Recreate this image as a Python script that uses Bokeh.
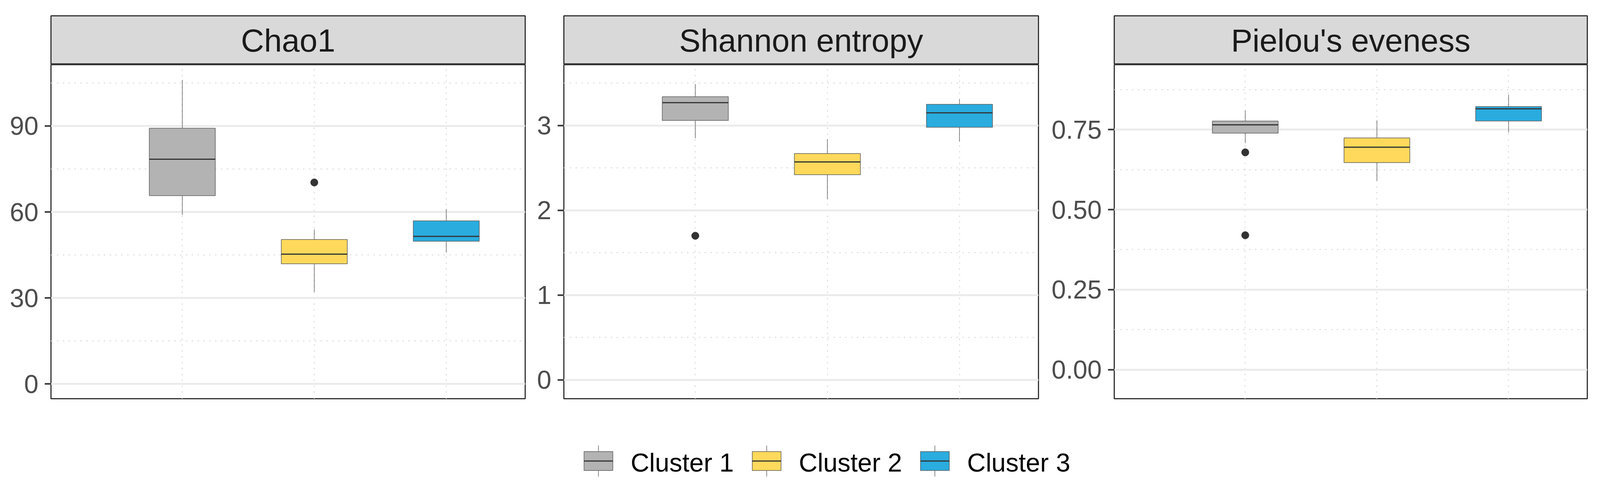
import pandas as pd
from bokeh.plotting import figure
from bokeh.models import ColumnDataSource, Range1d, FixedTicker, PrintfTickFormatter
from bokeh.layouts import column, row
from bokeh.embed import file_html
from bokeh.resources import INLINE
from bokeh.core.properties import value

# ---------------- data ----------------
categories = ["Cluster 1", "Cluster 2", "Cluster 3"]
fill_colors = ["#B3B3B3", "#FFD95C", "#2AACDF"]
cat_pos = [1, 2, 3]

chao1_lower = [59.0, 32.1, 45.9]
chao1_q1 = [65.7, 41.9, 49.8]
chao1_median = [78.4, 45.3, 51.5]
chao1_q3 = [89.2, 50.4, 56.9]
chao1_upper = [106.1, 53.9, 61.0]
chao1_out_cat = ["Cluster 2"]
chao1_out_val = [70.3]
chao1_ticks = [0, 30, 60, 90]
chao1_minor = [15, 45, 75, 105]

shannon_lower = [2.85, 2.13, 2.81]
shannon_q1 = [3.06, 2.42, 2.98]
shannon_median = [3.27, 2.57, 3.15]
shannon_q3 = [3.34, 2.67, 3.25]
shannon_upper = [3.49, 2.84, 3.31]
shannon_out_cat = ["Cluster 1"]
shannon_out_val = [1.70]
shannon_ticks = [0, 1, 2, 3]
shannon_minor = [0.5, 1.5, 2.5, 3.5]

pielou_lower = [0.708, 0.590, 0.741]
pielou_q1 = [0.739, 0.647, 0.777]
pielou_median = [0.765, 0.695, 0.815]
pielou_q3 = [0.777, 0.724, 0.822]
pielou_upper = [0.810, 0.779, 0.859]
pielou_out_cat = ["Cluster 1", "Cluster 1"]
pielou_out_val = [0.679, 0.420]
pielou_ticks = [0.0, 0.25, 0.50, 0.75]
pielou_minor = [0.125, 0.375, 0.625, 0.875]

panel_titles = ["Chao1", "Shannon entropy", "Pielou's eveness"]

# ---------------- layout (reference pixels -> page pixels) ----------------
REF_W, REF_H = 4223, 1290
S = 4096 / REF_W          # page pixels per reference pixel
TOTAL_W = 4075
TOTAL_H = 1235
FONT = "Liberation Sans"
BOX_W = 0.5
X_RANGE = (0.005, 3.598)

FRAME_LEFT_R = [134, 1488, 2940]
FRAME_RIGHT_R = [1386, 2740, 4189]
STRIP_TOP_R, STRIP_BOT_R, PANEL_BOT_R = 41, 169, 1051.7

strip_top = round(STRIP_TOP_R * S)
strip_bot = round(STRIP_BOT_R * S)
panel_top = strip_bot + 1
panel_bot = round(PANEL_BOT_R * S)
PANEL_BB = 8
leg_top = panel_bot + PANEL_BB
leg_h = TOTAL_H - leg_top

TICK_PX = f"{round(68 * S)}px"
TITLE_FS = 85
LEG_FS = 68
TITLE_Y = 106.5           # reference px, text anchor
LEG_TEXT_Y = 1220.5       # reference px, text anchor


def make_panel(title, lower, q1, med, q3, upper, out_cat, out_val, ticks, minor,
               yr, fmt, lb, fw, rb):
    s = figure(frame_width=fw, frame_height=strip_bot - strip_top,
               min_border_left=lb, min_border_right=rb,
               min_border_top=strip_top, min_border_bottom=0,
               x_range=Range1d(0, 1),
               y_range=Range1d(strip_bot / S, strip_top / S),
               x_axis_location=None, y_axis_location=None,
               toolbar_location=None, output_backend="svg", title=None)
    s.grid.visible = False
    s.background_fill_color = "#D9D9D9"
    s.border_fill_color = "white"
    s.outline_line_color = "#333333"
    s.outline_line_width = 3
    s.text(x=[0.5], y=[TITLE_Y], text=[title],
           text_align="center", text_baseline="alphabetic",
           text_font=value(FONT), text_font_size=f"{round(TITLE_FS * S)}px",
           text_color="#1A1A1A")

    p = figure(frame_width=fw, frame_height=panel_bot - panel_top,
               min_border_left=lb, min_border_right=rb, min_border_top=1,
               min_border_bottom=PANEL_BB,
               x_range=Range1d(*X_RANGE), y_range=Range1d(*yr),
               x_axis_location=None, toolbar_location=None,
               output_backend="svg", title=None)
    p.outline_line_color = "#333333"
    p.outline_line_width = 3
    p.background_fill_color = "white"

    t = FixedTicker(ticks=ticks, minor_ticks=minor)
    p.yaxis.ticker = t
    p.ygrid.ticker = t
    p.yaxis.formatter = PrintfTickFormatter(format=fmt)
    p.yaxis.axis_line_color = None
    p.yaxis.major_tick_out = 16
    p.yaxis.major_tick_in = 0
    p.yaxis.major_tick_line_width = 4
    p.yaxis.major_tick_line_color = "#333333"
    p.yaxis.minor_tick_line_color = None
    p.yaxis.major_label_standoff = 16
    p.yaxis.major_label_text_font = FONT
    p.yaxis.major_label_text_font_size = TICK_PX
    p.yaxis.major_label_text_color = "#4D4D4D"

    p.ygrid.grid_line_color = "#EBEBEB"
    p.ygrid.grid_line_width = 5
    p.ygrid.minor_grid_line_color = "#E3E3E3"
    p.ygrid.minor_grid_line_width = 3
    p.ygrid.minor_grid_line_dash = "4 11"

    p.xgrid.ticker = FixedTicker(ticks=cat_pos)
    p.xgrid.grid_line_color = "#E3E3E3"
    p.xgrid.grid_line_width = 3
    p.xgrid.grid_line_dash = "4 11"

    df = pd.DataFrame(dict(x=cat_pos, lower=lower, q1=q1, median=med, q3=q3,
                           upper=upper, color=fill_colors))
    df["xl"] = df["x"] - BOX_W / 2
    df["xr"] = df["x"] + BOX_W / 2
    src = ColumnDataSource(df)

    p.segment(x0="x", y0="q3", x1="x", y1="upper", source=src,
              line_color="#666666", line_width=1.5)
    p.segment(x0="x", y0="lower", x1="x", y1="q1", source=src,
              line_color="#666666", line_width=1.5)
    p.vbar(x="x", width=BOX_W, bottom="q1", top="q3", source=src,
           fill_color="color", line_color="#5E5E5E", line_width=1.5)
    p.segment(x0="xl", y0="median", x1="xr", y1="median", source=src,
              line_color="#333333", line_width=3)

    ox = [cat_pos[categories.index(c)] for c in out_cat]
    p.scatter(x=ox, y=out_val, size=round(20 * S), fill_color="#333333",
              line_color="#333333")
    return column(s, p, spacing=0)


panel_specs = [
    (panel_titles[0], chao1_lower, chao1_q1, chao1_median, chao1_q3, chao1_upper,
     chao1_out_cat, chao1_out_val, chao1_ticks, chao1_minor, (-5.15, 111.4), "%d"),
    (panel_titles[1], shannon_lower, shannon_q1, shannon_median, shannon_q3,
     shannon_upper, shannon_out_cat, shannon_out_val, shannon_ticks,
     shannon_minor, (-0.222, 3.718), "%d"),
    (panel_titles[2], pielou_lower, pielou_q1, pielou_median, pielou_q3,
     pielou_upper, pielou_out_cat, pielou_out_val, pielou_ticks, pielou_minor,
     (-0.0908, 0.953), "%.2f"),
]

cols = []
start = 0
for i, spec in enumerate(panel_specs):
    fl = round(FRAME_LEFT_R[i] * S)
    fr = round(FRAME_RIGHT_R[i] * S)
    rb = 4 if i < 2 else TOTAL_W - fr
    cols.append(make_panel(*spec, fl - start, fr - fl, rb))
    start = fr + rb

# ---------------- legend (drawn in reference pixel coordinates) ----------------
lf = figure(frame_width=TOTAL_W, frame_height=leg_h, min_border_left=0,
            min_border_right=0, min_border_top=0, min_border_bottom=0,
            x_range=Range1d(0, TOTAL_W / S),
            y_range=Range1d((leg_top + leg_h) / S, leg_top / S),
            x_axis_location=None, y_axis_location=None,
            toolbar_location=None, output_backend="svg", title=None)
lf.grid.visible = False
lf.outline_line_color = None

KEY_X0, PITCH, KEY_W = 1541, 444, 76
key_left = [KEY_X0 + PITCH * i for i in range(len(categories))]
ldf = pd.DataFrame(dict(left=key_left, label=categories, color=fill_colors))
ldf["right"] = ldf["left"] + KEY_W
ldf["mid"] = ldf["left"] + KEY_W / 2
ldf["top"] = 1191
ldf["bottom"] = 1241
ldf["ymid"] = 1216
ldf["wt"] = 1175
ldf["wb"] = 1257
ldf["tx"] = ldf["left"] + 123
ldf["ty"] = LEG_TEXT_Y
lsrc = ColumnDataSource(ldf)
lf.segment(x0="mid", y0="wt", x1="mid", y1="top", source=lsrc,
           line_color="#666666", line_width=1.5)
lf.segment(x0="mid", y0="bottom", x1="mid", y1="wb", source=lsrc,
           line_color="#666666", line_width=1.5)
lf.quad(left="left", right="right", top="top", bottom="bottom", source=lsrc,
        fill_color="color", line_color="#5E5E5E", line_width=1.5)
lf.segment(x0="left", y0="ymid", x1="right", y1="ymid", source=lsrc,
           line_color="#333333", line_width=3)
lf.text(x="tx", y="ty", text="label", source=lsrc, text_align="left",
        text_baseline="alphabetic", text_font=value(FONT),
        text_font_size=f"{round(LEG_FS * S)}px", text_color="#000000")

layout = column(row(*cols, spacing=0), lf, spacing=0)

open("out.html", "w").write(file_html(layout, INLINE))
